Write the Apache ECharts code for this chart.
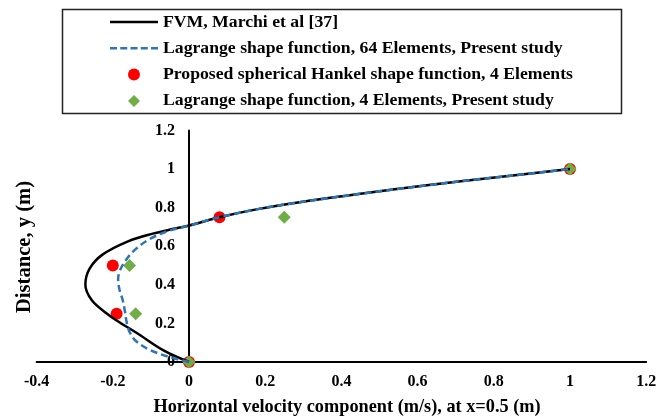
<!DOCTYPE html>
<html>
<head>
<meta charset="utf-8">
<script src="https://cdn.jsdelivr.net/npm/echarts@6.0.0/dist/echarts.min.js"></script>
<style>
  html, body { margin: 0; padding: 0; background: #fff; }
  #chart { width: 658px; height: 418px; }
</style>
</head>
<body>
<div id="chart"></div>
<script>
// Horizontal velocity profile u(y) along the vertical centre line x = 0.5 m
const seriesNames = [
  'FVM, Marchi et al [37]',
  'Lagrange shape function, 64 Elements, Present study',
  'Proposed spherical Hankel shape function, 4 Elements',
  'Lagrange shape function, 4 Elements, Present study'
];

// Reference FVM solution, [u, y]
const fvmCurve = [
  [0, 0], [-0.067, 0.06], [-0.137, 0.15], [-0.19, 0.215], [-0.215, 0.25],
  [-0.255, 0.32], [-0.272, 0.40], [-0.262, 0.48], [-0.228, 0.555],
  [-0.16, 0.625], [-0.095, 0.665], [-0.04, 0.69], [0, 0.707], [0.08, 0.75],
  [0.18, 0.792], [0.29, 0.828], [0.46, 0.874], [0.63, 0.917], [0.82, 0.96], [1, 1]
];

// Lagrange shape function, 64 elements, [u, y]
const lagrange64 = [
  [0, 0], [-0.055, 0.028], [-0.105, 0.065], [-0.14, 0.11], [-0.157, 0.16],
  [-0.164, 0.21], [-0.168, 0.26], [-0.174, 0.32], [-0.183, 0.38],
  [-0.186, 0.43], [-0.18, 0.48], [-0.165, 0.53], [-0.14, 0.585],
  [-0.105, 0.635], [-0.06, 0.675], [0, 0.707], [0.08, 0.75], [0.18, 0.792],
  [0.29, 0.828], [0.46, 0.874], [0.63, 0.917], [0.82, 0.96], [1, 1]
];

// Spherical Hankel shape function, 4 elements, [u, y]
const hankel4 = [[0, 0], [-0.19, 0.25], [-0.2, 0.5], [0.08, 0.75], [1, 1]];

// Lagrange shape function, 4 elements, [u, y]
const lagrange4 = [[0, 0], [-0.14, 0.25], [-0.156, 0.5], [0.25, 0.75], [1, 1]];

// Axis ranges and tick steps
const xRange = { min: -0.4, max: 1.2, step: 0.2 };
const yRange = { min: 0, max: 1.2, step: 0.2 };

const xTitle = 'Horizontal velocity component (m/s), at x=0.5 (m)';
const yTitle = 'Distance, y (m)';

const FONT = '"Liberation Serif", "DejaVu Serif", serif';

// Plot box in pixels
const GRID = { left: 36.6, right: 11.8, top: 130.4, bottom: 56 };
const plotWidth = 658 - GRID.left - GRID.right;
// shift that puts the vertical axis (with its labels) on u = 0
const yAxisShift = plotWidth * (0 - xRange.min) / (xRange.max - xRange.min);

const chart = echarts.init(document.getElementById('chart'), null, { renderer: 'canvas' });

const labelStyle = {
  color: '#000',
  fontFamily: FONT,
  fontWeight: 'bold',
  fontSize: 16
};

// Legend keys: a solid bar, a dashed bar, and a diamond
const solidKey = 'path://M0,0H48V2.5H0Z';
const dashedKey = 'path://M0,0h7v2.5h-7zM10.25,0h7v2.5h-7zM20.5,0h7v2.5h-7zM30.75,0h7v2.5h-7zM41,0h7v2.5h-7z';
const diamondKey = 'path://M0,-1L1,0L0,1L-1,0Z';

chart.setOption({
  animation: false,
  backgroundColor: '#fff',
  grid: {
    left: GRID.left,
    right: GRID.right,
    top: GRID.top,
    bottom: GRID.bottom,
    containLabel: false,
    outerBoundsMode: 'none'
  },
  legend: {
    orient: 'vertical',
    left: 110,
    top: 12,
    padding: 0,
    itemWidth: 48,
    itemHeight: 12,
    itemGap: 6.3,
    symbolKeepAspect: true,
    data: [
      { name: seriesNames[0], icon: solidKey, itemStyle: { color: '#000', borderWidth: 0 } },
      { name: seriesNames[1], icon: dashedKey, itemStyle: { color: '#2E75B6', borderWidth: 0 } },
      { name: seriesNames[2], icon: 'circle' },
      { name: seriesNames[3], icon: diamondKey }
    ],
    textStyle: Object.assign({}, labelStyle, { fontSize: 17.7, lineHeight: 20 })
  },
  xAxis: {
    type: 'value',
    min: xRange.min,
    max: xRange.max,
    interval: xRange.step,
    splitLine: { show: false },
    axisTick: { show: false },
    axisLine: { onZero: false, lineStyle: { color: '#000', width: 2 } },
    axisLabel: Object.assign({ margin: 12 }, labelStyle)
  },
  yAxis: {
    type: 'value',
    position: 'left',
    offset: -yAxisShift,
    min: yRange.min,
    max: yRange.max,
    interval: yRange.step,
    splitLine: { show: false },
    axisTick: { show: false },
    axisLine: { onZero: false, lineStyle: { color: '#000', width: 2 } },
    axisLabel: Object.assign({ margin: 14 }, labelStyle)
  },
  graphic: [
    {
      type: 'rect',
      left: 60,
      top: 7,
      shape: { width: 559, height: 104 },
      style: { fill: 'none', stroke: '#222', lineWidth: 1.5 },
      z: 10
    },
    {
      type: 'text',
      x: 347,
      y: 407,
      style: {
        text: xTitle,
        fill: '#000',
        font: 'bold 18.3px ' + FONT,
        textAlign: 'center',
        textVerticalAlign: 'middle'
      }
    },
    {
      type: 'text',
      x: 25,
      y: 247,
      rotation: Math.PI / 2,
      style: {
        text: yTitle,
        fill: '#000',
        font: 'bold 20.6px ' + FONT,
        textAlign: 'center',
        textVerticalAlign: 'middle'
      }
    }
  ],
  series: [
    {
      name: seriesNames[0],
      type: 'line',
      data: fvmCurve,
      smooth: 0.35,
      symbol: 'none',
      lineStyle: { color: '#000', width: 2.5 },
      itemStyle: { color: '#000' }
    },
    {
      name: seriesNames[1],
      type: 'line',
      data: lagrange64,
      smooth: 0.35,
      symbol: 'none',
      lineStyle: { color: '#2E75B6', width: 2.5, type: [7, 4] },
      itemStyle: { color: '#2E75B6' }
    },
    {
      name: seriesNames[2],
      type: 'scatter',
      data: hankel4,
      symbol: 'circle',
      symbolSize: 12,
      itemStyle: { color: '#FF0000', opacity: 1 }
    },
    {
      name: seriesNames[3],
      type: 'scatter',
      data: lagrange4,
      symbol: 'diamond',
      symbolSize: 13,
      itemStyle: { color: '#70AD47', opacity: 1 }
    }
  ]
});
</script>
</body>
</html>
